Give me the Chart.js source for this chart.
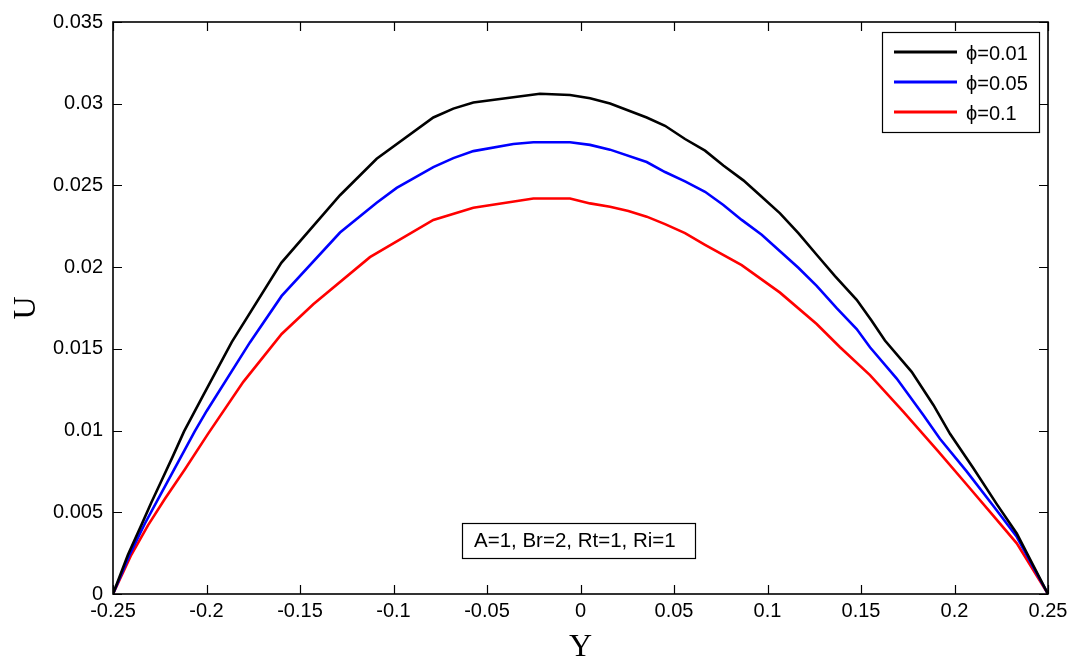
<!DOCTYPE html>
<html>
<head>
<meta charset="utf-8">
<script src="https://cdn.jsdelivr.net/npm/chart.js@4/dist/chart.umd.min.js"></script>
<style>
  html, body { margin: 0; padding: 0; background: #fff; }
  #wrap { width: 1074px; height: 658px; }
</style>
</head>
<body>
<div id="wrap"><canvas id="chart"></canvas></div>
<script>
// data (Y, U pairs for each phi)
const yPhi001 = [-0.25, -0.242, -0.2349, -0.2295, -0.2242, -0.2179, -0.212, -0.2017, -0.1865, -0.16, -0.1286, -0.109, -0.0787, -0.068, -0.0573, -0.0217, -0.0056, 0.0051, 0.0158, 0.0354, 0.0452, 0.0559, 0.0666, 0.0764, 0.0871, 0.096, 0.1067, 0.1165, 0.1263, 0.1361, 0.1477, 0.1557, 0.1628, 0.1771, 0.1887, 0.1976, 0.2101, 0.2226, 0.2333, 0.25];
const uPhi001 = [0, 0.0024, 0.0042, 0.0056, 0.0069, 0.00845, 0.00995, 0.01217, 0.01541, 0.02026, 0.0244, 0.02663, 0.02916, 0.0297, 0.03007, 0.03061, 0.03053, 0.03033, 0.03001, 0.02916, 0.02865, 0.02784, 0.02713, 0.02622, 0.02531, 0.0244, 0.02329, 0.02208, 0.02076, 0.01945, 0.018, 0.01672, 0.01551, 0.01359, 0.01157, 0.0098, 0.0077, 0.0055, 0.0037, 0];

const yPhi005 = [-0.25, -0.2411, -0.233, -0.2259, -0.2188, -0.2063, -0.1999, -0.1767, -0.1598, -0.1286, -0.109, -0.0983, -0.0787, -0.068, -0.0573, -0.0359, -0.0252, -0.0056, 0.0051, 0.0158, 0.0354, 0.0452, 0.0559, 0.0666, 0.0764, 0.0862, 0.0969, 0.1067, 0.1165, 0.1263, 0.137, 0.1477, 0.1548, 0.1691, 0.1833, 0.1922, 0.2065, 0.2207, 0.2333, 0.25];
const uPhi005 = [0, 0.0024, 0.0043, 0.0058, 0.0073, 0.00995, 0.0112, 0.01541, 0.01824, 0.02212, 0.02394, 0.02485, 0.02612, 0.02667, 0.0271, 0.02754, 0.02764, 0.02764, 0.02748, 0.02719, 0.02643, 0.02582, 0.02525, 0.02461, 0.0238, 0.02289, 0.02198, 0.02097, 0.01996, 0.01885, 0.01749, 0.01621, 0.0151, 0.01318, 0.01096, 0.0095, 0.0075, 0.0054, 0.0035, 0];

const yPhi01 = [-0.25, -0.2402, -0.2313, -0.2224, -0.2117, -0.1992, -0.1803, -0.1598, -0.1429, -0.1126, -0.0787, -0.0573, -0.0252, -0.0056, 0.0051, 0.0158, 0.0256, 0.0354, 0.0452, 0.0559, 0.0666, 0.0862, 0.1067, 0.1263, 0.1388, 0.1548, 0.1726, 0.1913, 0.2065, 0.2207, 0.2333, 0.25];
const uPhi01 = [0, 0.0024, 0.0042, 0.0058, 0.0076, 0.0098, 0.01298, 0.01591, 0.01773, 0.02061, 0.02289, 0.02364, 0.0242, 0.0242, 0.0239, 0.0237, 0.02343, 0.02309, 0.02263, 0.02208, 0.02137, 0.02012, 0.01844, 0.01652, 0.0151, 0.01339, 0.01116, 0.00873, 0.0067, 0.0048, 0.0031, 0];

const seriesLabels = ['\u03D5=0.01', '\u03D5=0.05', '\u03D5=0.1'];
const seriesColors = ['#000000', '#0000ff', '#ff0000'];
const noteText = 'A=1, Br=2, Rt=1, Ri=1';

// where the plot box sits in the reference
const wantArea = { left: 113, top: 17, right: 1048, bottom: 594 };

function pairs(xs, ys) {
    return xs.map((x, i) => ({ x: x, y: ys[i] }));
}

function fmt(v) {
    const n = Number(Number(v).toFixed(4));
    return n === 0 ? '0' : String(n);
}

const sansFont = "'Liberation Sans', Arial, sans-serif";
const serifFont = "'Liberation Serif', 'Times New Roman', serif";

// frame with inward ticks on all four sides (MATLAB look)
const framePlugin = {
    id: 'frame',
    afterDatasetsDraw(chart) {
        const { ctx, chartArea: { left, right, top, bottom }, scales: { x, y } } = chart;
        const tl = 9;
        ctx.save();
        ctx.strokeStyle = '#000';
        ctx.lineWidth = 1.2;
        ctx.beginPath();
        x.ticks.forEach(t => {
            const px = Math.round(x.getPixelForValue(t.value)) + 0.5;
            ctx.moveTo(px, bottom); ctx.lineTo(px, bottom - tl);
            ctx.moveTo(px, top); ctx.lineTo(px, top + tl);
        });
        y.ticks.forEach(t => {
            const py = Math.round(y.getPixelForValue(t.value)) + 0.5;
            ctx.moveTo(left, py); ctx.lineTo(left + tl, py);
            ctx.moveTo(right, py); ctx.lineTo(right - tl, py);
        });
        ctx.stroke();
        ctx.lineWidth = 1.6;
        ctx.strokeRect(left, top, right - left, bottom - top);
        ctx.restore();
    }
};

// legend box in the upper right, plus the parameter note
const boxesPlugin = {
    id: 'boxes',
    afterDraw(chart) {
        const { ctx, chartArea: { left, right, top, bottom } } = chart;
        ctx.save();
        ctx.font = '20px ' + sansFont;
        ctx.textBaseline = 'middle';

        const bx = right - 166, by = top + 10, bw = 157, bh = 100;
        ctx.fillStyle = '#fff';
        ctx.fillRect(bx, by, bw, bh);
        ctx.strokeStyle = '#000';
        ctx.lineWidth = 1.2;
        ctx.strokeRect(bx + 0.5, by + 0.5, bw, bh);
        chart.data.datasets.forEach((ds, i) => {
            const ly = by + 20 + i * 30;
            ctx.strokeStyle = ds.borderColor;
            ctx.lineWidth = 3;
            ctx.beginPath();
            ctx.moveTo(bx + 12, ly);
            ctx.lineTo(bx + 75, ly);
            ctx.stroke();
            ctx.fillStyle = '#000';
            ctx.fillText(ds.label, bx + 84, ly + 2);
        });

        ctx.font = '20.5px ' + sansFont;
        const nw = 233, nh = 35;
        const nx = (left + right) / 2 - nw / 2 - 2, ny = bottom - 71;
        ctx.fillStyle = '#fff';
        ctx.fillRect(nx, ny, nw, nh);
        ctx.strokeStyle = '#000';
        ctx.lineWidth = 1.2;
        ctx.strokeRect(nx + 0.5, ny + 0.5, nw, nh);
        ctx.fillStyle = '#000';
        ctx.fillText(noteText, nx + 12, ny + nh / 2 + 1);
        ctx.restore();
    }
};

const datasets = [
    pairs(yPhi001, uPhi001),
    pairs(yPhi005, uPhi005),
    pairs(yPhi01, uPhi01)
].map((pts, i) => ({
    label: seriesLabels[i],
    data: pts,
    borderColor: seriesColors[i],
    backgroundColor: seriesColors[i],
    borderWidth: 2.6,
    pointRadius: 0,
    tension: 0,
    fill: false
}));

const pad = { left: 0, top: 17, right: 26, bottom: 0 };

const chart = new Chart(document.getElementById('chart'), {
    type: 'line',
    data: { datasets: datasets },
    options: {
        responsive: true,
        maintainAspectRatio: false,
        animation: false,
        layout: { padding: pad },
        plugins: {
            legend: { display: false },
            tooltip: { enabled: false }
        },
        scales: {
            x: {
                type: 'linear',
                min: -0.25,
                max: 0.25,
                grid: { display: false, drawTicks: false },
                border: { display: false },
                ticks: {
                    stepSize: 0.05,
                    padding: 5,
                    color: '#000',
                    font: { family: sansFont, size: 20 },
                    maxRotation: 0,
                    callback: v => fmt(v)
                },
                title: {
                    display: true,
                    text: 'Y',
                    color: '#000',
                    font: { family: serifFont, size: 32, lineHeight: 1 },
                    padding: { top: 0, bottom: -6 }
                },
                afterFit(scale) { scale.height = 64; }
            },
            y: {
                min: 0,
                max: 0.035,
                grid: { display: false, drawTicks: false },
                border: { display: false },
                ticks: {
                    stepSize: 0.005,
                    padding: 10,
                    color: '#000',
                    font: { family: sansFont, size: 20 },
                    callback: v => fmt(v)
                },
                title: {
                    display: true,
                    text: 'U',
                    color: '#000',
                    font: { family: serifFont, size: 32, lineHeight: 1 },
                    padding: { top: 11, bottom: 0 }
                },
                afterFit(scale) { scale.width = 113; }
            }
        }
    },
    plugins: [framePlugin, boxesPlugin]
});

// nudge the padding so the plot box lands where it is in the reference
const ca = chart.chartArea;
pad.top += wantArea.top - ca.top;
pad.right += ca.right - wantArea.right;
pad.left += wantArea.left - ca.left;
pad.bottom += ca.bottom - wantArea.bottom;
chart.options.layout.padding = pad;
chart.update();
</script>
</body>
</html>
